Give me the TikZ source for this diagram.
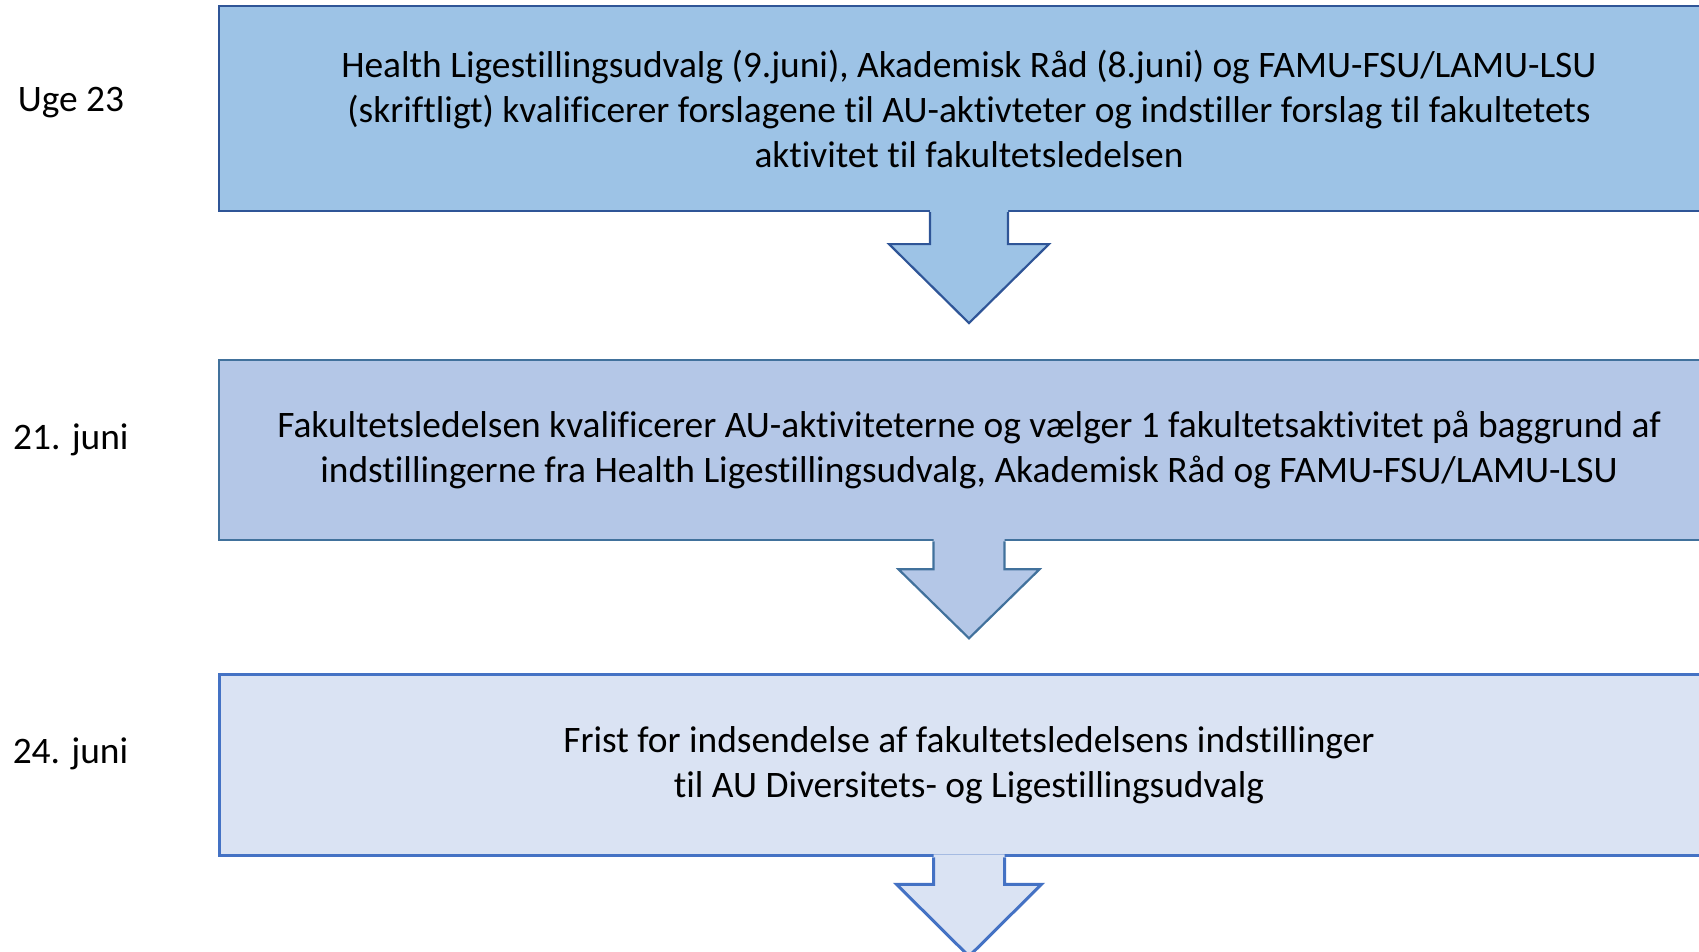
\documentclass[tikz,border=0pt]{standalone}
\usepackage{fontspec}
\setmainfont{Carlito}[Ligatures=NoCommon]
\usetikzlibrary{positioning,calc}
\definecolor{fillA}{HTML}{9DC3E6}
\definecolor{lineA}{HTML}{2F5597}
\definecolor{fillB}{HTML}{B4C7E7}
\definecolor{lineB}{HTML}{41719C}
\definecolor{fillC}{HTML}{DAE3F3}
\definecolor{lineC}{HTML}{4472C4}
\tikzset{
stepbox/.style={draw, line width=2.2pt, align=center, inner sep=0pt, minimum width=1500pt, font=\fontsize{37.4}{45}\selectfont},
datelabel/.style={align=center, inner sep=0pt, font=\fontsize{37.4}{45}\selectfont},
blockline/.style={line width=2.2pt, line join=miter}
}

\begin{document}
\begin{tikzpicture}[x=1pt, y=1pt, node distance=147pt]
\useasboundingbox (0,0) rectangle (1699,-952);
\clip (0,0) rectangle (1699,-952);

% the three steps
\node[stepbox, fill=fillA, draw=lineA, minimum height=205pt] (b1) at (969,-108.5)
  {Health Ligestillingsudvalg (9.juni), Akademisk Råd (8.juni) og FAMU-FSU/LAMU-LSU\\
   (skriftligt) kvalificerer forslagene til AU-aktivteter og indstiller forslag til fakultetets\\
   aktivitet til fakultetsledelsen};
\node[stepbox, fill=fillB, draw=lineB, minimum height=180pt, below=of b1] (b2)
  {Fakultetsledelsen kvalificerer AU-aktiviteterne og vælger 1 fakultetsaktivitet på baggrund af\\
   indstillingerne fra Health Ligestillingsudvalg, Akademisk Råd og FAMU-FSU/LAMU-LSU};
\node[stepbox, fill=fillC, draw=lineC, line width=3pt, minimum height=181pt, below=132pt of b2] (b3)
  {Frist for indsendelse af fakultetsledelsens indstillinger\\
   til AU Diversitets- og Ligestillingsudvalg};

% dates
\node[datelabel] (d1) at ($(b1.west)+(-147,6)$) {Uge 23};
\node[datelabel] (d2) at ($(b2.west)+(-147,10)$) {21. juni};
\node[datelabel] (d3) at ($(b3.west)+(-147,11)$) {24. juni};

% block arrows
\coordinate (t1) at ($(b1.south)+(0,-111)$);
\coordinate (t2) at ($(b2.south)+(0,-97)$);
\coordinate (t3) at ($(b3.south)+(0,-99)$);

\fill[fillA] ($(b1.south)+(-39,3)$) -- ++(0,-35) -- ++(-41,0) -- (t1)
  -- ($(b1.south)+(80,-32)$) -- ++(-41,0) -- ++(0,35) -- cycle;
\draw[blockline, lineA] ($(b1.south)+(-39,0)$) -- ++(0,-32) -- ++(-41,0) -- (t1)
  -- ($(b1.south)+(80,-32)$) -- ++(-41,0) -- ++(0,32);

\fill[fillB] ($(b2.south)+(-35.5,3)$) -- ++(0,-31) -- ++(-35,0) -- (t2)
  -- ($(b2.south)+(70.5,-28)$) -- ++(-35,0) -- ++(0,31) -- cycle;
\draw[blockline, lineB] ($(b2.south)+(-35.5,0)$) -- ++(0,-28) -- ++(-35,0) -- (t2)
  -- ($(b2.south)+(70.5,-28)$) -- ++(-35,0) -- ++(0,28);

\fill[fillC] ($(b3.south)+(-35.5,3)$) -- ++(0,-30) -- ++(-37,0) -- (t3)
  -- ($(b3.south)+(72.5,-27)$) -- ++(-37,0) -- ++(0,30) -- cycle;
\draw[blockline, lineC, line width=3pt] ($(b3.south)+(-35.5,0)$) -- ++(0,-27) -- ++(-37,0) -- (t3)
  -- ($(b3.south)+(72.5,-27)$) -- ++(-37,0) -- ++(0,27);
\end{tikzpicture}
\end{document}
